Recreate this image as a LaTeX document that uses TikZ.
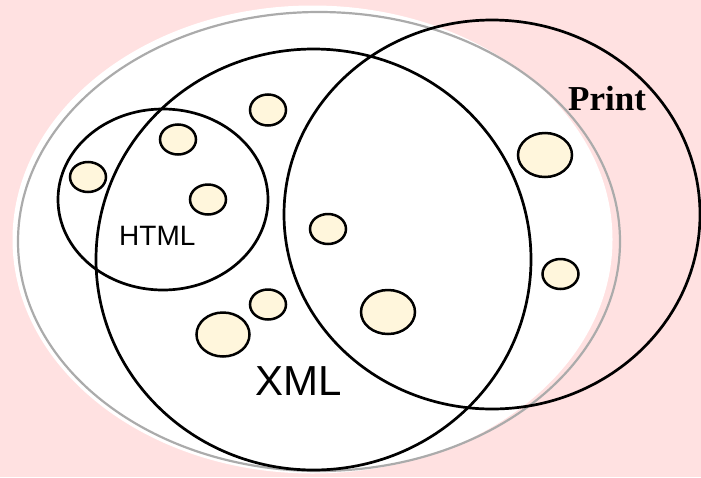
\documentclass[tikz,border=0pt]{standalone}
\usepackage{fontspec}
\setmainfont{Liberation Serif}
\newfontfamily\arialfont{Liberation Sans}
\definecolor{bgpink}{HTML}{FFE1E1}
\definecolor{cream}{HTML}{FFF6DC}
\definecolor{rimgray}{HTML}{ABABAB}
\begin{document}
\begin{tikzpicture}[x=1pt,y=-1pt,
  setline/.style={draw=black,line width=2.7pt},
  dot/.style={draw=black,line width=2.5pt,fill=cream},
  lbl/.style={inner sep=0pt,anchor=base west}]
\fill[bgpink] (0,0) rectangle (701,477);
\useasboundingbox (0,0) rectangle (701,477);
% outer white region with gray rim
\fill[white] (312.5,239.5) ellipse [x radius=300, y radius=234];
\draw[rimgray,line width=2.2pt] (319,241.5) ellipse [x radius=301, y radius=229.5];
% sets
\draw[setline] (313.5,259.5) ellipse [x radius=217.5, y radius=210.5];
\draw[setline] (163,199.5) ellipse [x radius=105, y radius=90.5];
\draw[setline] (492,214.5) ellipse [x radius=208, y radius=194.5];
% elements
\draw[dot] (88,177) ellipse [x radius=18, y radius=15];
\draw[dot] (178,139.5) ellipse [x radius=18, y radius=15];
\draw[dot] (208,199.5) ellipse [x radius=18, y radius=15];
\draw[dot] (268,110) ellipse [x radius=18, y radius=15.5];
\draw[dot] (328,229) ellipse [x radius=18, y radius=15];
\draw[dot] (545,155) ellipse [x radius=27, y radius=22];
\draw[dot] (560.5,274) ellipse [x radius=18, y radius=15];
\draw[dot] (388,312) ellipse [x radius=27, y radius=22];
\draw[dot] (268,304.5) ellipse [x radius=18, y radius=15];
\draw[dot] (223,334.5) ellipse [x radius=26.5, y radius=22];
% labels
\node[lbl] (html) at (119,245) {\arialfont\fontsize{28}{30}\selectfont HTML};
\node[lbl] (xml) at (255,395) {\arialfont\fontsize{42}{44}\selectfont XML};
\node[lbl] (print) at (568,110) {\fontsize{35}{37}\selectfont\bfseries Print};
\end{tikzpicture}
\end{document}
